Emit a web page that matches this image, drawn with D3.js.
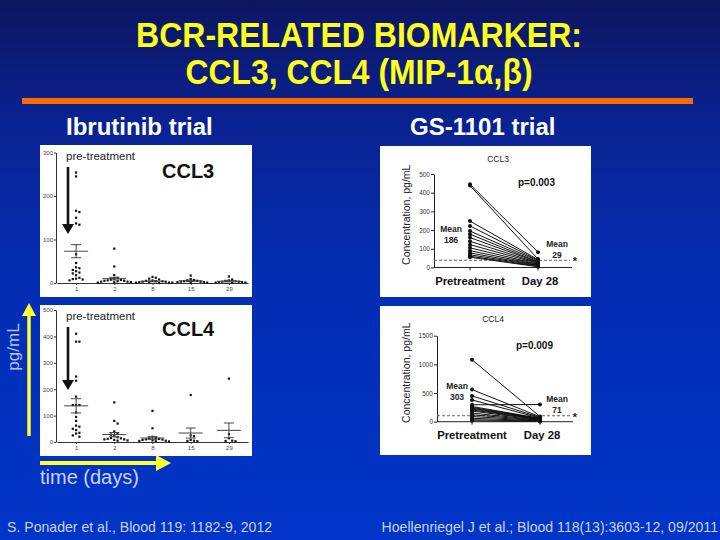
<!DOCTYPE html>
<html><head><meta charset="utf-8">
<script src="https://cdn.jsdelivr.net/npm/d3@7"></script>
<style>body{margin:0;background:#0030c0}svg{display:block}</style>
</head><body><svg id="c" width="720" height="540"></svg>
<script>
// ---------- data ----------
const titleLines = ["BCR-RELATED BIOMARKER:", "CCL3, CCL4 (MIP-1\u03b1,\u03b2)"];
const trialTitles = ["Ibrutinib trial", "GS-1101 trial"];
const footers = ["S. Ponader et al., Blood 119: 1182-9, 2012", "Hoellenriegel J et al.; Blood 118(13):3603-12, 09/2011"];

// Ibrutinib trial (days)
const ibruDays = ["1", "2", "8", "15", "29"];
const ccl3Ticks = [0, 100, 200, 300];
const ccl3Day1 = [254, 245, 166, 163, 150, 137, 134, 66, 46, 36, 34, 30, 27, 24, 22, 18, 12, 10, 9, 8, 6];
const ccl3Day2 = [79, 38, 18, 12, 10, 8, 7, 6, 5, 5, 4, 3, 3, 2, 2, 1];
const ccl3Day8 = [14, 12, 10, 8, 6, 5, 4, 4, 3, 3, 2, 2, 1, 1, 1, 0];
const ccl3Day15 = [17, 9, 7, 6, 5, 4, 3, 3, 2, 2, 1, 1];
const ccl3Day29 = [15, 8, 6, 5, 4, 3, 3, 2, 2, 1, 1, 0];
const ccl3IbruMean = [73, 10, 4, 5, 4];
const ccl3IbruSem = [15, 3, 1, 1.5, 1.5];

const ccl4Ticks = [0, 100, 200, 300, 400, 500];
const ccl4Day1 = [410, 380, 380, 248, 232, 172, 140, 140, 140, 112, 95, 80, 62, 58, 50, 45, 35, 32, 25, 20];
const ccl4Day2 = [150, 80, 70, 40, 32, 28, 22, 18, 15, 14, 12, 10, 10, 8, 6, 5];
const ccl4Day8 = [118, 52, 20, 16, 14, 12, 10, 9, 8, 6, 5, 4, 3, 2];
const ccl4Day15 = [178, 25, 22, 8, 5, 4, 3];
const ccl4Day29 = [240, 30, 14, 5, 4, 3];
const ccl4IbruMean = [137, 28, 15, 34, 44];
const ccl4IbruSem = [27, 8, 5, 19, 28];

// GS-1101 trial
const gsGroups = ["Pretreatment", "Day 28"];
const gsCcl3Ticks = [0, 100, 200, 300, 400, 500];
const gsCcl3Pre = [445, 438, 248, 222, 195, 178, 160, 140, 122, 105, 90, 78, 68, 60, 55];
const gsCcl3Day28 = [82, 45, 42, 38, 35, 30, 28, 25, 22, 18, 15, 12, 10, 7, 4];
const gsCcl3Means = [186, 29];
const gsCcl3Lod = 39;
const gsCcl4Ticks = [0, 500, 1000, 1500];
const gsCcl4Pre = [1080, 560, 450, 380, 295, 265, 250, 235, 220, 205, 185, 150, 120, 90, 60, 35, 15];
const gsCcl4Day28 = [90, 85, 75, 65, 300, 60, 55, 50, 45, 40, 35, 30, 25, 20, 15, 10, 5];
const gsCcl4Means = [303, 71];
const gsCcl4Lod = 105;
const gsPValues = ["p=0.003", "p=0.009"];

// ---------- drawing ----------
const FONT = "'Liberation Sans', Arial, sans-serif";
const svg = d3.select("#c");
const defs = svg.append("defs");
const grad = defs.append("linearGradient").attr("id", "bg")
  .attr("x1", 0).attr("y1", 0).attr("x2", 0).attr("y2", 1);
[[0, "#0c1660"], [0.22, "#0a2290"], [0.5, "#032db2"], [1, "#0035c8"]]
  .forEach(([o, c]) => grad.append("stop").attr("offset", o).attr("stop-color", c));
svg.append("rect").attr("width", 720).attr("height", 540).attr("fill", "url(#bg)");

// title
titleLines.forEach((t, i) => {
  svg.append("text").attr("x", 359).attr("y", 47 + i * 37)
    .attr("text-anchor", "middle").attr("font-family", FONT).attr("font-weight", "bold")
    .attr("font-size", 35).attr("fill", "#ffff1a")
    .attr("textLength", i === 0 ? 446 : 347).attr("lengthAdjust", "spacingAndGlyphs")
    .text(t);
});
svg.append("rect").attr("x", 22).attr("y", 98).attr("width", 671).attr("height", 6).attr("fill", "#ff6a00");

svg.append("text").attr("x", 66).attr("y", 135).attr("font-family", FONT).attr("font-weight", "bold")
  .attr("font-size", 24).attr("fill", "#fff").text(trialTitles[0]);
svg.append("text").attr("x", 410).attr("y", 135).attr("font-family", FONT).attr("font-weight", "bold")
  .attr("font-size", 24).attr("fill", "#fff").text(trialTitles[1]);

// ---------- ibrutinib panels ----------
function swarm(vals, y, cx, d) {
  const placed = [];
  return vals.map(v => {
    const cy = y(v);
    const offs = [0];
    for (let k = 1; k < 30; k++) offs.push(k * d, -k * d);
    for (const o of offs) {
      if (placed.every(p => Math.hypot(p.x - (cx + o), p.y - cy) >= d * 0.98)) {
        placed.push({ x: cx + o, y: cy });
        return { x: cx + o, y: cy };
      }
    }
  });
}

function ibruPanel(o) {
  const g = svg.append("g");
  g.append("rect").attr("x", 40).attr("y", o.top).attr("width", 212).attr("height", o.h).attr("fill", "#fff");
  const x = d3.scalePoint().domain(ibruDays).range([57, 248]).padding(0.5);
  const y = d3.scaleLinear().domain([0, o.max]).range([o.y0, o.y1]);
  const ya = g.append("g").attr("transform", "translate(56,0)")
    .call(d3.axisLeft(y).tickValues(o.ticks).tickSize(2).tickSizeOuter(0).tickPadding(1));
  const xa = g.append("g").attr("transform", `translate(0,${o.y0})`)
    .call(d3.axisBottom(x).tickSize(2).tickSizeOuter(0).tickPadding(2));
  [ya, xa].forEach(a => {
    a.select(".domain").attr("stroke", "#333").attr("stroke-width", 1);
    a.selectAll(".tick line").attr("stroke", "#333");
    a.selectAll("text").attr("font-family", FONT).attr("font-size", 6).attr("fill", "#444");
  });
  o.days.forEach((vals, i) => {
    const cx = x(ibruDays[i]);
    const pts = swarm(vals, y, cx, 3.3);
    g.selectAll(null).data(pts).enter().append("rect")
      .attr("x", d => d.x - 1.1).attr("y", d => d.y - 1.1).attr("width", 2.2).attr("height", 2.2)
      .attr("fill", "#111");
    const m = o.mean[i], s = o.sem[i];
    g.append("line").attr("x1", cx - 12).attr("x2", cx + 12).attr("y1", y(m)).attr("y2", y(m))
      .attr("stroke", "#444").attr("stroke-width", 1);
    g.append("line").attr("x1", cx).attr("x2", cx).attr("y1", y(m - s)).attr("y2", y(m + s))
      .attr("stroke", "#444").attr("stroke-width", 1);
    [m - s, m + s].forEach(v => g.append("line").attr("x1", cx - 5).attr("x2", cx + 5)
      .attr("y1", y(v)).attr("y2", y(v)).attr("stroke", "#444").attr("stroke-width", 1));
  });
  g.append("text").attr("x", 66).attr("y", o.top + 15).attr("font-family", FONT)
    .attr("font-size", 11.5).attr("fill", "#222").text("pre-treatment");
  g.append("line").attr("x1", 68).attr("x2", 68).attr("y1", o.top + 22).attr("y2", o.arrowTip - 8)
    .attr("stroke", "#111").attr("stroke-width", 2.6);
  g.append("path").attr("d", `M62,${o.arrowTip - 10}L74,${o.arrowTip - 10}L68,${o.arrowTip}Z`).attr("fill", "#111");
  g.append("text").attr("x", 162).attr("y", o.labelY).attr("font-family", FONT).attr("font-weight", "bold")
    .attr("font-size", 20).attr("fill", "#111").text(o.label);
}

ibruPanel({ top: 145, h: 152, max: 300, y0: 283, y1: 152.5, ticks: ccl3Ticks,
  days: [ccl3Day1, ccl3Day2, ccl3Day8, ccl3Day15, ccl3Day29], mean: ccl3IbruMean, sem: ccl3IbruSem,
  arrowTip: 234, label: "CCL3", labelY: 178 });
ibruPanel({ top: 305, h: 151, max: 500, y0: 442, y1: 310, ticks: ccl4Ticks,
  days: [ccl4Day1, ccl4Day2, ccl4Day8, ccl4Day15, ccl4Day29], mean: ccl4IbruMean, sem: ccl4IbruSem,
  arrowTip: 390, label: "CCL4", labelY: 336 });

// pg/mL arrow and label
svg.append("line").attr("x1", 29).attr("x2", 29).attr("y1", 436).attr("y2", 314)
  .attr("stroke", "#ffff33").attr("stroke-width", 3.5);
svg.append("path").attr("d", "M22,316L36,316L29,303Z").attr("fill", "#ffff33");
svg.append("text").attr("transform", "translate(19,347) rotate(-90)").attr("text-anchor", "middle")
  .attr("font-family", FONT).attr("font-size", 17).attr("fill", "#b4c4ff").text("pg/mL");
// time arrow
svg.append("line").attr("x1", 40).attr("x2", 160).attr("y1", 463).attr("y2", 463)
  .attr("stroke", "#ffff33").attr("stroke-width", 4);
svg.append("path").attr("d", "M156,455L171,463L156,471Z").attr("fill", "#ffff33");
svg.append("text").attr("x", 40).attr("y", 484).attr("font-family", FONT).attr("font-size", 20)
  .attr("fill", "#c8d4ff").text("time (days)");

// ---------- GS-1101 panels ----------
function gsPanel(o) {
  const g = svg.append("g");
  g.append("rect").attr("x", 380).attr("y", o.top).attr("width", 211).attr("height", o.h).attr("fill", "#fff");
  const x = d3.scalePoint().domain(gsGroups).range([o.px, o.dx]);
  const y = d3.scaleLinear().domain([0, o.max]).range([o.y0, o.y1]);
  const ya = g.append("g").attr("transform", `translate(${o.ax},0)`)
    .call(d3.axisLeft(y).tickValues(o.ticks).tickFormat(d3.format("d")).tickSize(3).tickSizeOuter(0).tickPadding(1));
  ya.select(".domain").attr("stroke", "#222");
  ya.selectAll(".tick line").attr("stroke", "#222");
  ya.selectAll("text").attr("font-family", FONT).attr("font-size", 6.5).attr("fill", "#333");
  g.append("line").attr("x1", o.ax).attr("x2", o.xe).attr("y1", o.y0).attr("y2", o.y0).attr("stroke", "#222");
  gsGroups.forEach(k => g.append("line").attr("x1", x(k)).attr("x2", x(k)).attr("y1", o.y0).attr("y2", o.y0 + 3).attr("stroke", "#222"));
  gsGroups.forEach(k => g.append("text").attr("x", x(k) + (k === "Day 28" ? 2 : 0)).attr("y", o.y0 + 17)
    .attr("text-anchor", "middle").attr("font-family", FONT).attr("font-weight", "bold")
    .attr("font-size", 11.3).attr("fill", "#111").text(k));
  g.append("text").attr("x", o.titleX).attr("y", o.top + 16).attr("text-anchor", "middle")
    .attr("font-family", FONT).attr("font-size", 8.5).attr("fill", "#222").text(o.label);
  g.append("text").attr("transform", `translate(410,${(o.y0 + o.y1) / 2 - 6}) rotate(-90)`).attr("text-anchor", "middle")
    .attr("font-family", FONT).attr("font-size", 10.5).attr("fill", "#222").text("Concentration, pg/mL");
  // dashed detection line
  g.append("line").attr("x1", o.ax).attr("x2", 570).attr("y1", y(o.lod)).attr("y2", y(o.lod))
    .attr("stroke", "#666").attr("stroke-width", 1.1).attr("stroke-dasharray", "3,2");
  g.append("text").attr("x", 575).attr("y", y(o.lod) + 5).attr("text-anchor", "middle")
    .attr("font-family", FONT).attr("font-weight", "bold").attr("font-size", 11).attr("fill", "#222").text("*");
  const pairs = o.pre.map((v, i) => [v, o.post[i]]);
  g.selectAll(null).data(pairs).enter().append("line")
    .attr("x1", x(gsGroups[0])).attr("x2", x(gsGroups[1]))
    .attr("y1", d => y(d[0])).attr("y2", d => y(d[1])).attr("stroke", "#111").attr("stroke-width", 1);
  g.selectAll(null).data(o.pre).enter().append("circle").attr("cx", x(gsGroups[0])).attr("cy", d => y(d))
    .attr("r", 2).attr("fill", "#111");
  g.selectAll(null).data(o.post).enter().append("circle").attr("cx", x(gsGroups[1])).attr("cy", d => y(d))
    .attr("r", 2).attr("fill", "#111");
  g.append("text").attr("x", o.pX).attr("y", o.pY).attr("font-family", FONT).attr("font-weight", "bold")
    .attr("font-size", 10).attr("fill", "#111").text(o.p);
  [[o.m1x, o.m1y, o.means[0]], [o.m2x, o.m2y, o.means[1]]].forEach(([mx, my, v]) => {
    g.append("text").attr("x", mx).attr("y", my).attr("text-anchor", "middle").attr("font-family", FONT)
      .attr("font-weight", "bold").attr("font-size", 8.5).attr("fill", "#222").text("Mean");
    g.append("text").attr("x", mx).attr("y", my + 11).attr("text-anchor", "middle").attr("font-family", FONT)
      .attr("font-weight", "bold").attr("font-size", 8.5).attr("fill", "#222").text(String(v));
  });
}

gsPanel({ top: 146, h: 151, max: 500, y0: 267.5, y1: 174, ticks: gsCcl3Ticks, ax: 434, xe: 572,
  px: 470, dx: 538, pre: gsCcl3Pre, post: gsCcl3Day28, means: gsCcl3Means, lod: gsCcl3Lod,
  label: "CCL3", titleX: 498, p: gsPValues[0], pX: 518, pY: 186, m1x: 451, m1y: 232, m2x: 557, m2y: 247 });
gsPanel({ top: 306, h: 149, max: 1500, y0: 421.7, y1: 335.7, ticks: gsCcl4Ticks, ax: 437, xe: 573,
  px: 472, dx: 540, pre: gsCcl4Pre, post: gsCcl4Day28, means: gsCcl4Means, lod: gsCcl4Lod,
  label: "CCL4", titleX: 493, p: gsPValues[1], pX: 516, pY: 349, m1x: 457, m1y: 389, m2x: 557, m2y: 402 });

// footers
svg.append("text").attr("x", 7).attr("y", 532).attr("font-family", FONT).attr("font-size", 14.1)
  .attr("fill", "#c8d2f4").text(footers[0]);
svg.append("text").attr("x", 718).attr("y", 532).attr("text-anchor", "end").attr("font-family", FONT)
  .attr("font-size", 14.1).attr("fill", "#c8d2f4").text(footers[1]);
</script></body></html>
